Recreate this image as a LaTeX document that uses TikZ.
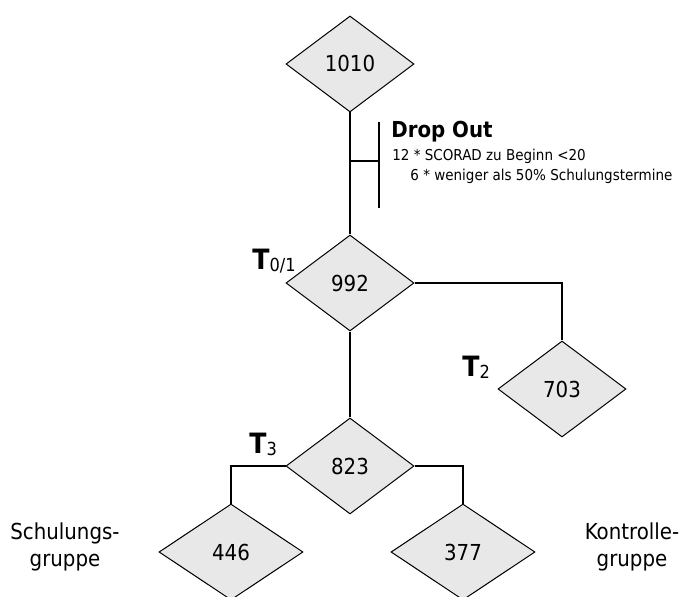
\documentclass[tikz,border=0pt]{standalone}
\usepackage{fontspec}
\setmainfont{DejaVu Sans Condensed}
\usetikzlibrary{shapes.geometric}
\definecolor{boxgray}{HTML}{E8E8E8}
\newcommand{\tmark}[1]{{\fontsize{14}{14}\selectfont\bfseries T}{\fontsize{9}{9}\selectfont\raisebox{-1pt}{#1}}}

\begin{document}
\begin{tikzpicture}
    [x=0.5pt,y=-0.5pt,
     box/.style={shape=diamond,draw=black,line width=0.5pt,fill=boxgray,inner sep=0pt,
       minimum width=64pt,minimum height=48pt,font=\fontsize{11}{13}\selectfont},
     wide/.style={box,minimum width=72pt},
     link/.style={line width=1.4pt},
     group/.style={align=center,font=\fontsize{11}{13.5}\selectfont}]
    \useasboundingbox (0,0) rectangle (683,597);
    \node [box] (n1010) at (350,64) {1010};
    \node [box] (n992) at (350,283) {992}
      edge [link] (n1010);
    \node [box] (n703) at (562,389) {703};
    \node [box] (n823) at (350,466) {823}
      edge [link] (n992);
    \node [wide] (n446) at (231,552) {446};
    \node [wide] (n377) at (463,552) {377};
    \draw [link] (n992.east) -| (n703.north);
    \draw [link] (n823.west) -| (n446.north);
    \draw [link] (n823.east) -| (n377.north);
    % drop out
    \coordinate (dtop) at (379,122);
    \coordinate (dbot) at (379,208);
    \coordinate (dmid) at (379,161);
    \coordinate (dfoot) at (350,161);
    \draw [link] (dtop) -- (dbot);
    \draw [link] (dfoot) -- (dmid);
    \node [anchor=west,inner sep=0pt,font=\fontsize{11}{13}\selectfont\bfseries] (drop) at (391,132) {Drop Out};
    \node [anchor=west,inner sep=0pt,font=\fontsize{7.5}{9}\selectfont] (why1) at (392,156) {12 * SCORAD zu Beginn <20};
    \node [anchor=west,inner sep=0pt,font=\fontsize{7.5}{9}\selectfont] (why2) at (401,176) {\hspace{4.5pt}6 * weniger als 50\% Schulungstermine};
    % time points
    \node [anchor=base west,inner sep=0pt] (t01) at (252,270) {\tmark{0/1}};
    \node [anchor=base west,inner sep=0pt] (t2) at (462,377) {\tmark{2}};
    \node [anchor=base west,inner sep=0pt] (t3) at (249,453) {\tmark{3}};
    \node [group] (lschul) at (65,547) {Schulungs-\\gruppe};
    \node [group] (lkontr) at (632,547) {Kontrolle-\\gruppe};
  \end{tikzpicture}
\end{document}
